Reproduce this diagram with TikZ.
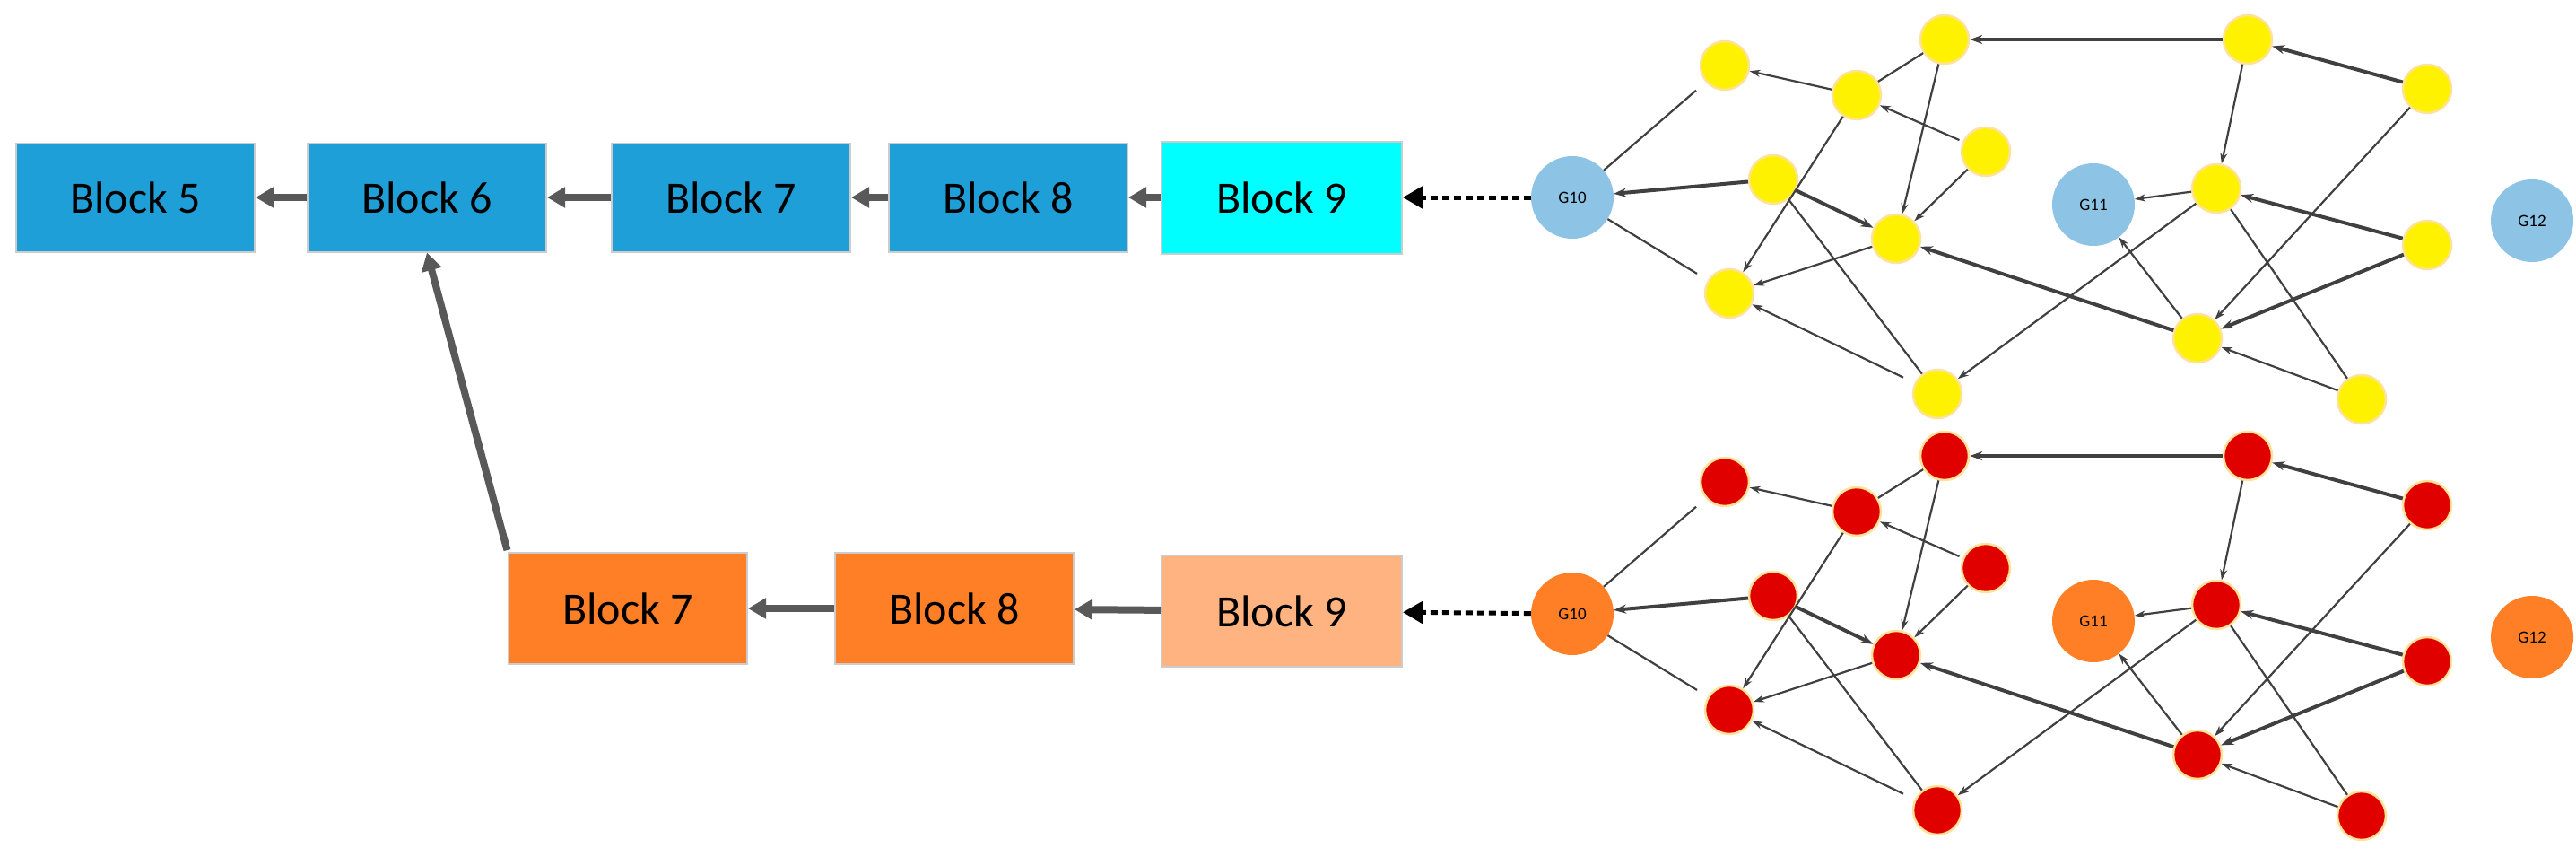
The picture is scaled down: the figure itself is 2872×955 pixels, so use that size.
\documentclass[tikz,border=0pt]{standalone}
\usepackage{fontspec}
\setmainfont{Carlito}
\usetikzlibrary{arrows.meta}
\definecolor{blk}{HTML}{1E9FD8}
\definecolor{cyn}{HTML}{00FFFF}
\definecolor{org}{HTML}{FF7F27}
\definecolor{lorg}{HTML}{FFB380}
\definecolor{gblue}{HTML}{8DC3E5}
\definecolor{ring}{HTML}{FFE29A}
\definecolor{edge}{HTML}{404040}
\definecolor{barr}{HTML}{595959}
\tikzset{
 block/.style={draw=gray!40,line width=2pt,minimum width=266pt,minimum height=121pt,inner sep=0pt,font=\fontsize{50}{60}\selectfont},
 gn/.style={circle,minimum size=92pt,inner sep=0pt,font=\fontsize{19}{22}\selectfont},
 vn/.style={circle,minimum size=54pt,inner sep=0pt,draw=ring,line width=2.5pt},
 e/.style={draw=edge,line width=2.2pt,-{Stealth[length=12pt,width=8pt]}},
 ee/.style={draw=edge,line width=2.2pt},
 et/.style={draw=edge,line width=4pt,-{Stealth[length=14pt,width=10pt]}},
 barrow/.style={draw=barr,line width=8pt,-{Triangle[length=20pt,width=22pt]}},
}
\newcommand\mygraph[4]{%
\begin{scope}[yshift=#2]
\node[gn,fill=#4] (#1g10) at (1753,220) {G10};
\node[gn,fill=#4] (#1g11) at (2334,228) {G11};
\node[gn,fill=#4] (#1g12) at (2823,246) {G12};
\node[vn,fill=#3] (#1a1) at (1923,73) {};
\node[vn,fill=#3] (#1a2) at (2168,44) {};
\node[vn,fill=#3] (#1a3) at (2070,106) {};
\node[vn,fill=#3] (#1a4) at (2214,169) {};
\node[vn,fill=#3] (#1a5) at (1977,200) {};
\node[vn,fill=#3] (#1a6) at (2114,266) {};
\node[vn,fill=#3] (#1a7) at (1928,327) {};
\node[vn,fill=#3] (#1a8) at (2160,439) {};
\node[vn,fill=#3] (#1a9) at (2506,44) {};
\node[vn,fill=#3] (#1a10) at (2706,99) {};
\node[vn,fill=#3] (#1a11) at (2471,210) {};
\node[vn,fill=#3] (#1a12) at (2706,273) {};
\node[vn,fill=#3] (#1a13) at (2450,377) {};
\node[vn,fill=#3] (#1a14) at (2633,445) {};
\end{scope}
\draw[ee,shorten >=14pt] (#1g10) -- (#1a1);
\draw[e] (#1a3) -- (#1a1);
\draw[ee] (#1a3) -- (#1a2);
\draw[e,shorten <=4pt] (#1a4) -- (#1a3);
\draw[et] (#1a5) -- (#1g10);
\draw[et] (#1a5) -- (#1a6);
\draw[e] (#1a4) -- (#1a6);
\draw[e] (#1a2) -- (#1a6);
\draw[e] (#1a3) -- (#1a7);
\draw[e] (#1a6) -- (#1a7);
\draw[ee,shorten >=14pt] (#1g10) -- (#1a7);
\draw[e,shorten <=14pt] (#1a8) -- (#1a7);
\draw[ee] (#1a5) -- (#1a8);
\draw[e] (#1a11) -- (#1a8);
\draw[et] (#1a13) -- (#1a6);
\draw[et] (#1a9) -- (#1a2);
\draw[et] (#1a10) -- (#1a9);
\draw[e] (#1a9) -- (#1a11);
\draw[e] (#1a11) -- (#1g11);
\draw[et] (#1a12) -- (#1a11);
\draw[e] (#1a10) -- (#1a13);
\draw[et] (#1a12) -- (#1a13);
\draw[e] (#1a13) -- (#1g11);
\draw[e] (#1a14) -- (#1a13);
\draw[ee] (#1a11) -- (#1a14);
}
\begin{document}
\begin{tikzpicture}[x=1pt,y=-1pt]
\useasboundingbox (0,0) rectangle (2872,955);
\node[block,fill=blk] (b5) at (151,220) {Block 5};
\node[block,fill=blk] (b6) at (476,220) {Block 6};
\node[block,fill=blk] (b7) at (815,220) {Block 7};
\node[block,fill=blk] (b8) at (1124,220) {Block 8};
\node[block,fill=cyn,minimum width=268pt,minimum height=125pt] (b9) at (1429,220) {Block 9};
\node[block,fill=org,minimum height=124pt] (c7) at (700,678) {Block 7};
\node[block,fill=org,minimum height=124pt] (c8) at (1064,678) {Block 8};
\node[block,fill=lorg,minimum width=268pt,minimum height=124pt] (c9) at (1429,681) {Block 9};
\mygraph{t}{0pt}{yellow}{gblue}
\mygraph{b}{-464pt}{red!88!black}{org}
\draw[barrow] (b6) -- (b5);
\draw[barrow] (b7) -- (b6);
\draw[barrow] (b8) -- (b7);
\draw[barrow] (b9) -- (b8);
\draw[barrow] (c8) -- (c7);
\draw[barrow] (c9) -- (c8);
\draw[barrow,shorten <=2pt] (c7.north west) -- (b6.south);
\draw[line width=5pt,dash pattern=on 8pt off 5pt,-{Triangle[length=22pt,width=24pt]}] (tg10) -- (b9);
\draw[line width=5pt,dash pattern=on 8pt off 5pt,-{Triangle[length=22pt,width=24pt]}] (bg10) -- (c9);
\end{tikzpicture}
\end{document}
